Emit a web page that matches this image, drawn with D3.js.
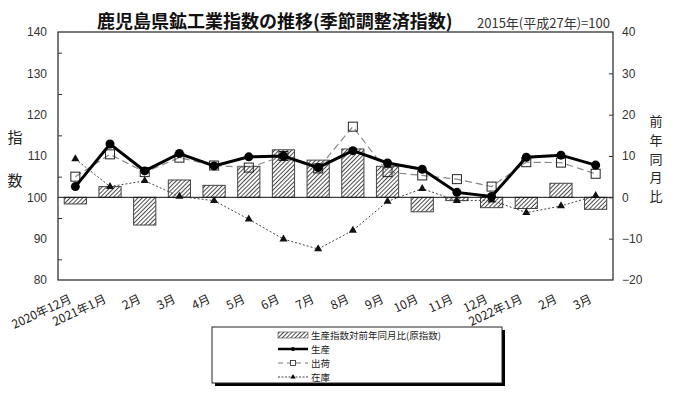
<html>
<script src='https://d3js.org/d3.v7.min.js'></script>
<style>
  body { margin: 0; background: #fff; }
  text { font-family: "Noto Sans CJK JP", "Noto Sans", sans-serif; }
  .num { font-family: "Liberation Sans", Arial, sans-serif; font-size: 12px; fill: #333; }
</style>
<body onload='init()'>
<svg width=700 height=394></svg>
<script>
// Data
const months = ["2020年12月","2021年1月","2月","3月","4月","5月","6月","7月","8月","9月","10月","11月","12月","2022年1月","2月","3月"]
const yoy        = [-1.6, 2.6, -6.7, 4.2, 2.9, 7.5, 11.5, 9.0, 11.7, 7.5, -3.5, -0.8, -2.5, -2.7, 3.4, -2.9]
const production = [102.6, 112.9, 106.4, 110.6, 107.6, 109.8, 110.0, 107.2, 111.3, 108.3, 106.8, 101.2, 100.2, 109.7, 110.2, 107.8]
const shipments  = [105.0, 110.4, 106.1, 109.6, 107.7, 107.2, 110.0, 107.0, 117.1, 106.1, 105.3, 104.4, 102.6, 108.5, 108.4, 105.7]
const inventory  = [109.3, 102.6, 104.0, 100.2, 99.2, 94.7, 89.9, 87.5, 92.0, 99.0, 102.1, 99.2, 99.3, 96.3, 97.9, 100.4]
const leftTicks  = [80, 90, 100, 110, 120, 130, 140]
const leftMinor  = [85, 95, 105, 115, 125, 135]
const rightTicks = [-20, -10, 0, 10, 20, 30, 40]
const legendNames = ["生産指数対前年同月比(原指数)", "生産", "出荷", "在庫"]

function init() {
    const svg = d3.select("svg")
    const L = 58, R = 613, T = 32, B = 280

    const idx = months.map((d, i) => i)
    const x = d3.scaleBand().domain(idx).range([L, R]).padding(0)
    const cx = i => x(i) + x.bandwidth() / 2
    const yL = d3.scaleLinear().domain([80, 140]).range([B, T])
    const yR = d3.scaleLinear().domain([-20, 40]).range([B, T])

    // hatch pattern
    const pat = svg.append("defs").append("pattern")
        .attr("id", "hatch").attr("patternUnits", "userSpaceOnUse")
        .attr("width", 3).attr("height", 3)
        .attr("patternTransform", "rotate(45)")
    pat.append("rect").attr("width", 3).attr("height", 3).attr("fill", "#fff")
    pat.append("line").attr("x1", 0).attr("y1", 0).attr("x2", 0).attr("y2", 3)
        .attr("stroke", "#111").attr("stroke-width", 1.5)

    // title
    svg.append("text").attr("x", 97).attr("y", 28)
        .style("font-size", "18px").style("font-weight", "bold").attr("fill", "#111")
        .text("鹿児島県鉱工業指数の推移(季節調整済指数)")
    svg.append("text").attr("x", 477).attr("y", 28)
        .style("font-size", "13px").attr("fill", "#333")
        .text("2015年(平成27年)=100")

    // bars
    const bw = x.bandwidth() * 0.64
    svg.append("g").selectAll("rect").data(yoy).enter().append("rect")
        .attr("x", (d, i) => cx(i) - bw / 2)
        .attr("y", d => yR(Math.max(0, d)))
        .attr("width", bw)
        .attr("height", d => Math.abs(yR(d) - yR(0)))
        .attr("fill", "url(#hatch)").attr("stroke", "#444").attr("stroke-width", 1)

    // baseline at 100
    svg.append("line").attr("x1", L).attr("x2", R).attr("y1", yL(100)).attr("y2", yL(100))
        .attr("stroke", "#111").attr("stroke-width", 1)

    // plot frame
    svg.append("rect").attr("x", L).attr("y", T).attr("width", R - L).attr("height", B - T)
        .attr("fill", "none").attr("stroke", "#222").attr("stroke-width", 1.2)

    // left axis
    svg.append("g").attr("transform", `translate(${L},0)`)
        .call(d3.axisLeft(yL).tickValues(leftTicks).tickSize(0).tickPadding(11))
        .call(g => g.select(".domain").remove())
        .selectAll("text").attr("class", "num")
    svg.append("g").attr("transform", `translate(${L},0)`)
        .call(d3.axisRight(yL).tickValues(leftMinor).tickSize(4).tickFormat(""))
        .call(g => g.select(".domain").remove())
        .selectAll("line").attr("stroke", "#333")

    // right axis
    svg.append("g").attr("transform", `translate(${R},0)`)
        .call(d3.axisRight(yR).tickValues(rightTicks).tickSize(0).tickPadding(9))
        .call(g => g.select(".domain").remove())
        .selectAll("text").attr("class", "num")
    svg.append("g").attr("transform", `translate(${R},0)`)
        .call(d3.axisLeft(yR).tickValues(rightTicks.slice(1, -1)).tickSize(4).tickFormat(""))
        .call(g => g.select(".domain").remove())
        .selectAll("line").attr("stroke", "#333")

    // x labels
    svg.append("g").selectAll("text").data(months).enter().append("text")
        .attr("transform", (d, i) => `translate(${cx(i) - 3},${B + 22}) rotate(-25)`)
        .attr("text-anchor", "end")
        .style("font-size", "12px").attr("fill", "#222")
        .text(d => d)

    // axis titles
    svg.append("g").selectAll("text").data(["指", "数"]).enter().append("text")
        .attr("x", 15).attr("y", (d, i) => 143 + i * 43)
        .attr("text-anchor", "middle").style("font-size", "15px").attr("fill", "#222")
        .text(d => d)
    svg.append("g").selectAll("text").data("前年同月比".split("")).enter().append("text")
        .attr("x", 656).attr("y", (d, i) => 126 + i * 18.8)
        .attr("text-anchor", "middle").style("font-size", "13px").attr("fill", "#222")
        .text(d => d)

    // lines
    const line = data => d3.line().x((d, i) => cx(i)).y(d => yL(d))(data)

    svg.append("path").attr("d", line(inventory)).attr("fill", "none")
        .attr("stroke", "#444").attr("stroke-width", 1).attr("stroke-dasharray", "2,2")
    const tri = d3.symbol().type(d3.symbolTriangle).size(28)
    svg.append("g").selectAll("path").data(inventory).enter().append("path")
        .attr("d", tri).attr("transform", (d, i) => `translate(${cx(i)},${yL(d)})`)
        .attr("fill", "#111")

    svg.append("path").attr("d", line(shipments)).attr("fill", "none")
        .attr("stroke", "#888").attr("stroke-width", 1.2).attr("stroke-dasharray", "7,4")
    svg.append("g").selectAll("rect").data(shipments).enter().append("rect")
        .attr("x", (d, i) => cx(i) - 4.5).attr("y", d => yL(d) - 4.5)
        .attr("width", 9).attr("height", 9)
        .attr("fill", "none").attr("stroke", "#222").attr("stroke-width", 1)

    svg.append("path").attr("d", line(production)).attr("fill", "none")
        .attr("stroke", "#000").attr("stroke-width", 3)
    svg.append("g").selectAll("circle").data(production).enter().append("circle")
        .attr("cx", (d, i) => cx(i)).attr("cy", d => yL(d)).attr("r", 4.5)
        .attr("fill", "#000")

    // legend
    const lg = svg.append("g")
    lg.append("rect").attr("x", 215).attr("y", 330).attr("width", 290).attr("height", 56).attr("fill", "#000")
    lg.append("rect").attr("x", 212).attr("y", 327).attr("width", 290).attr("height", 56)
        .attr("fill", "#fff").attr("stroke", "#222").attr("stroke-width", 1)
    const rowY = [335, 349, 363, 377]
    const sx0 = 278, sx1 = 308
    lg.append("rect").attr("x", sx0).attr("y", rowY[0] - 3).attr("width", sx1 - sx0).attr("height", 6)
        .attr("fill", "url(#hatch)").attr("stroke", "#444").attr("stroke-width", 0.6)
    lg.append("line").attr("x1", sx0).attr("x2", sx1).attr("y1", rowY[1]).attr("y2", rowY[1])
        .attr("stroke", "#000").attr("stroke-width", 2.5)
    lg.append("circle").attr("cx", (sx0 + sx1) / 2).attr("cy", rowY[1]).attr("r", 2).attr("fill", "#000")
    lg.append("line").attr("x1", sx0).attr("x2", sx1).attr("y1", rowY[2]).attr("y2", rowY[2])
        .attr("stroke", "#777").attr("stroke-width", 1).attr("stroke-dasharray", "5,4")
    lg.append("rect").attr("x", (sx0 + sx1) / 2 - 2.5).attr("y", rowY[2] - 2.5).attr("width", 5).attr("height", 5)
        .attr("fill", "#fff").attr("stroke", "#222").attr("stroke-width", 0.8)
    lg.append("line").attr("x1", sx0).attr("x2", sx1).attr("y1", rowY[3]).attr("y2", rowY[3])
        .attr("stroke", "#444").attr("stroke-width", 1).attr("stroke-dasharray", "2,1.5")
    lg.append("path").attr("d", d3.symbol().type(d3.symbolTriangle).size(12))
        .attr("transform", `translate(${(sx0 + sx1) / 2},${rowY[3]})`).attr("fill", "#000")
    lg.selectAll("text.lt").data(legendNames).enter().append("text")
        .attr("x", 311).attr("y", (d, i) => rowY[i] + 3.5)
        .style("font-size", "9.5px").attr("fill", "#222")
        .text(d => d)
}
</script>
</body>
</html>
